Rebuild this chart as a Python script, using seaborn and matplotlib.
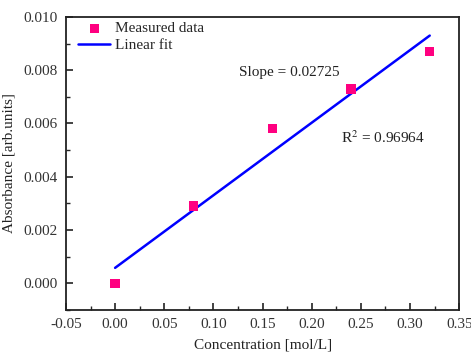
import numpy as np
import pandas as pd
import matplotlib
matplotlib.use("Agg")
import matplotlib.pyplot as plt
import seaborn as sns
from matplotlib.ticker import MultipleLocator

concentration = [0.00, 0.08, 0.16, 0.24, 0.32]
absorbance = [0.0000, 0.0029, 0.0058, 0.0073, 0.0087]
x_ticks = [-0.05, 0.00, 0.05, 0.10, 0.15, 0.20, 0.25, 0.30, 0.35]
y_ticks = [0.000, 0.002, 0.004, 0.006, 0.008, 0.010]

sns.set_theme(style="ticks")
plt.rcParams['font.family'] = ['Liberation Serif', 'DejaVu Serif']
plt.rcParams['mathtext.fontset'] = 'stix'

df = pd.DataFrame({"c": concentration, "a": absorbance})
slope, intercept = np.polyfit(df["c"], df["a"], 1)
fit = pd.DataFrame({"c": [min(concentration), max(concentration)]})
fit["a"] = slope * fit["c"] + intercept

fig = plt.figure(figsize=(4.71, 3.53), dpi=100)
ax = fig.add_axes([0.140, 0.122, 0.835, 0.830])

sns.scatterplot(data=df, x="c", y="a", ax=ax, marker="s", s=45,
                color="#FF0080", edgecolor="none", label="Measured data", zorder=3)
sns.lineplot(data=fit, x="c", y="a", ax=ax, color="#0000FF", lw=1.8, label="Linear fit")

ax.set_xlim(-0.05, 0.35)
ax.set_ylim(-0.001, 0.010)
ax.set_xticks(x_ticks)
ax.set_xticklabels([f"{t:.2f}" for t in x_ticks])
ax.set_yticks(y_ticks)
ax.set_yticklabels([f"{t:.3f}" for t in y_ticks])
ax.xaxis.set_minor_locator(MultipleLocator(0.025))
ax.yaxis.set_minor_locator(MultipleLocator(0.001))
ax.tick_params(which="major", direction="in", length=5, width=1.2, labelsize=11, colors="#222222", pad=6)
ax.tick_params(which="major", labelcolor="#333333")
ax.tick_params(which="minor", direction="in", length=3, width=1.0)
for s in ax.spines.values():
    s.set_linewidth(1.3)
    s.set_color("#222222")

ax.set_xlabel("Concentration [mol/L]", fontsize=11, labelpad=5, color="#222222")
ax.set_ylabel("Absorbance [arb.units]", fontsize=11, labelpad=6, color="#222222")

ax.text(0.126, 0.0079, "Slope = 0.02725", fontsize=11, va="center", color="#222222")
ax.text(0.2296, 0.00547, "R$^{2}$ = 0.96964", fontsize=11, va="center", color="#222222")

ax.legend(loc="upper left", frameon=False, fontsize=11, handlelength=2.1,
          borderaxespad=0.0, borderpad=0.3, handletextpad=0.3, labelspacing=0.2,
          bbox_to_anchor=(0.02, 1.0))

fig.savefig("out.png", dpi=100)
